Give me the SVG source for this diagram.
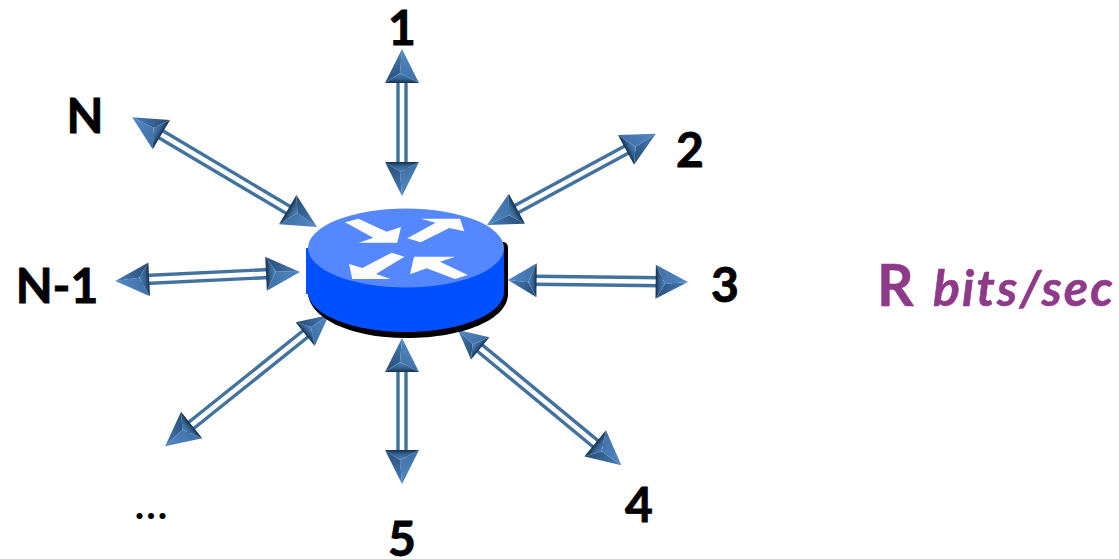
<svg xmlns="http://www.w3.org/2000/svg" width="1119" height="559" viewBox="0 0 1119 559">
<style>
.rail{fill:none;stroke:#44729f;stroke-width:3.4}
.lbl{font-family:Lato,"Liberation Sans",sans-serif;font-weight:700;font-size:48px;fill:#000;stroke:#000;stroke-width:.9}
.pur{font-family:Lato,"Liberation Sans",sans-serif;font-weight:700;fill:#8f3a88;stroke:#8f3a88;stroke-width:.5}
</style>
<defs>
<linearGradient id="fa" x1="0" y1="0" x2="1" y2="0"><stop offset="0" stop-color="#5288c4"/><stop offset="1" stop-color="#3f6fa6"/></linearGradient>
<linearGradient id="fb" x1="0" y1="0" x2="1" y2="0"><stop offset="0" stop-color="#4a7db8"/><stop offset="1" stop-color="#264d78"/></linearGradient>
<linearGradient id="fc" x1="1" y1="0" x2="0" y2="0"><stop offset="0" stop-color="#16304c"/><stop offset=".4" stop-color="#33608f"/><stop offset="1" stop-color="#4f84bd"/></linearGradient>
<g id="h">
<path d="M0 0L34 -17L24 2Z" fill="url(#fa)"/>
<path d="M0 0L34 17L24 2Z" fill="url(#fb)"/>
<path d="M34 -17L34 17L24 2Z" fill="url(#fc)"/>
</g>
</defs>
<g id="connectors">
<g transform="translate(402 49) rotate(90)"><path class="rail" d="M30 -4H125M30 4H125"/><use href="#h"/><use href="#h" transform="translate(147 0) scale(-1 1)"/></g>
<g transform="translate(487 225) rotate(-28.4)"><path class="rail" d="M30 -4H163M30 4H163"/><use href="#h"/><use href="#h" transform="translate(192 0) scale(-1 1)"/></g>
<g transform="translate(508 280) rotate(0.64)"><path class="rail" d="M25 -4H155M25 4H155"/><use href="#h" transform="scale(.84 1)"/><use href="#h" transform="translate(180 0) scale(-.95 1)"/></g>
<g transform="translate(458 330) rotate(39.6)"><path class="rail" d="M25 -4H187M25 4H187"/><use href="#h" transform="scale(.85 .85)"/><use href="#h" transform="translate(212 0) scale(-1 1)"/></g>
<g transform="translate(402 338) rotate(90)"><path class="rail" d="M30 -4H118M30 4H118"/><use href="#h"/><use href="#h" transform="translate(146 0) scale(-1 1)"/></g>
<g transform="translate(329 315) rotate(141.3)"><path class="rail" d="M25 -4H185M25 4H185"/><use href="#h" transform="scale(.9 .9)"/><use href="#h" transform="translate(210 0) scale(-1 1)"/></g>
<g transform="translate(300 272) rotate(177.2)"><path class="rail" d="M30 -4H160M30 4H160"/><use href="#h"/><use href="#h" transform="translate(185 0) scale(-1 1)"/></g>
<g transform="translate(317 227) rotate(210.7)"><path class="rail" d="M30 -4H190M30 4H190"/><use href="#h"/><use href="#h" transform="translate(215 0) scale(-1 1)"/></g>
</g>
<g id="router">
<path d="M500 242h4q4 1 4 6v46c0 25 -44 44 -102 44s-98 -21 -98 -46Z" fill="#000"/>
<rect x="306" y="248" width="4" height="46" fill="#0050ff"/>
<path d="M308 248V292C308 314 352 332 406 332S504 314 504 292V248Z" fill="#0050ff"/>
<ellipse cx="406" cy="248" rx="98" ry="39.5" fill="#5588ff"/>
<g transform="translate(290 190) scale(.33333)" fill="#fff">
<path d="M165 97L205 86L290 125L333 111L322 158H207L250 143Z"/>
<path d="M352 145L437 98L393 86H510L523 124L478 114L392 157Z"/>
<path d="M343 200L305 188L217 234L177 222L187 267H302L258 252Z"/>
<path d="M533 255L495 267L410 235L360 253L372 200H495L450 215Z"/>
</g>
</g>
<g id="labels">
<text class="lbl" x="402" y="45" text-anchor="middle">1</text>
<text class="lbl" x="690" y="167" text-anchor="middle">2</text>
<text class="lbl" x="725" y="302" text-anchor="middle">3</text>
<text class="lbl" x="639" y="522" text-anchor="middle">4</text>
<text class="lbl" x="402" y="556" text-anchor="middle">5</text>
<text class="lbl" x="85" y="133" text-anchor="middle">N</text>
<text class="lbl" x="57" y="303" text-anchor="middle">N-1</text>
<text class="lbl" x="152" y="519" text-anchor="middle" style="font-size:40px;stroke:none;letter-spacing:2px">...</text>
<text class="pur" x="877" y="306" font-size="57">R</text>
<text class="pur" x="933" y="306" font-size="50" font-style="italic" textLength="180">bits/sec</text>
</g>
</svg>
